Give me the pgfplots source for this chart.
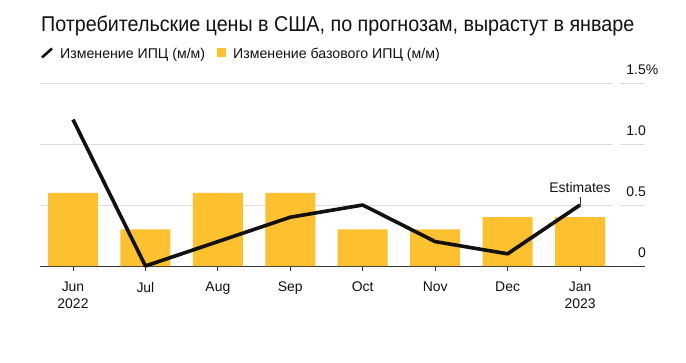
\documentclass[border=0pt]{standalone}
\usepackage{pgfplots}
\pgfplotsset{compat=1.18}
\usepackage{fontspec}
\setmainfont{Liberation Sans}
\newfontfamily\titlefont[FakeStretch=0.92]{Liberation Sans}
\definecolor{bary}{HTML}{FDC12F}
\definecolor{gridc}{HTML}{DDDDDD}
\definecolor{txt}{HTML}{111111}
\definecolor{axc}{HTML}{333333}
\begin{document}
\begin{tikzpicture}
\path[use as bounding box] (0,0) rectangle (686bp,-363bp);
\node[anchor=base west, inner sep=0pt, font=\titlefont\fontsize{21.5}{26}\selectfont, text=txt] at (41bp,-31bp) {Потребительские цены в США, по прогнозам, вырастут в январе};
\draw[line width=2.6bp, txt] (42bp,-57.5bp) -- (52bp,-48.5bp);
\node[anchor=base west, inner sep=0pt, font=\fontsize{14.2}{17}\selectfont, text=txt] at (60bp,-58bp) {Изменение ИПЦ (м/м)};
\fill[bary] (217bp,-56.5bp) rectangle (226bp,-47.5bp);
\node[anchor=base west, inner sep=0pt, font=\fontsize{14.2}{17}\selectfont, text=txt] at (233bp,-58bp) {Изменение базового ИПЦ (м/м)};
\begin{axis}[
  at={(40bp,-266bp)}, anchor=south west,
  scale only axis, width=605bp, height=183bp,
  xmin=-0.4556, xmax=7.897, ymin=0, ymax=1.5,
  clip=false,
  axis x line*=bottom, axis y line*=right,
  y axis line style={draw=none},
  x axis line style={draw=axc, line width=1bp},
  xtick={0,...,7},
  xticklabels={{Jun\\2022},Jul,Aug,Sep,Oct,Nov,Dec,{Jan\\2023}},
  xtick align=outside, major tick length=5bp,
  xtick style={draw=axc, line width=0.8bp},
  xticklabel style={align=center, font=\fontsize{14}{16.5}\selectfont, text=txt, anchor=north, inner sep=0pt, yshift=-11bp},
  ytick={0,0.5,1,1.5},
  yticklabels={0,0.5,1.0,1.5\rlap{\%}},
  yticklabel pos=right,
  ytick style={draw=none},
  yticklabel style={anchor=base east, inner sep=0pt, xshift=1bp, yshift=9bp, font=\fontsize{14}{16}\selectfont, text=txt},
]
\foreach \yy in {0.5,1,1.5}{
  \edef\tmp{\noexpand\draw[gridc, line width=1bp] (axis cs:-0.4556,\yy) -- (axis cs:7.455,\yy);
  \noexpand\draw[gridc, line width=1bp] (axis cs:7.552,\yy) -- (axis cs:7.897,\yy);}\tmp
}
\addplot[ybar, bar width=50bp, fill=bary, draw=none] coordinates {
(0,0.6) (1,0.3) (2,0.6) (3,0.6) (4,0.3) (5,0.3) (6,0.4) (7,0.4)};
\addplot[line width=3.6bp, txt, line join=round, mark=none] coordinates {
(0,1.2) (1,0) (2,0.2) (3,0.4) (4,0.5) (5,0.2) (6,0.1) (7,0.5)};
\draw[axc, line width=0.8bp] (axis cs:7,0.5) -- ([yshift=8bp]axis cs:7,0.5);
\node[anchor=base, inner sep=0pt, font=\fontsize{14}{16}\selectfont, text=txt] at ([yshift=13bp]axis cs:7,0.5) {Estimates};
\end{axis}
\end{tikzpicture}
\end{document}
